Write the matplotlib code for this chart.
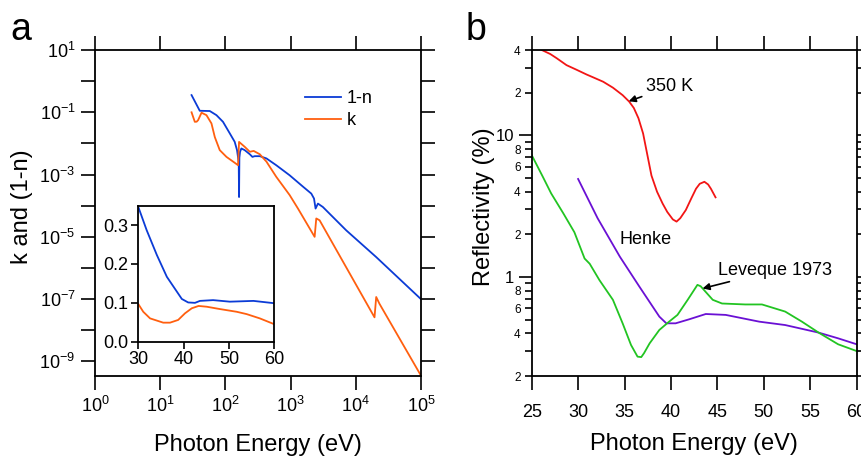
import numpy as np
import matplotlib
matplotlib.use('Agg')
import matplotlib.pyplot as plt
from matplotlib.ticker import FixedLocator, FuncFormatter, NullLocator

plt.rcParams['font.family'] = ['Liberation Sans', 'DejaVu Sans']
plt.rcParams['mathtext.fontset'] = 'custom'
plt.rcParams['mathtext.rm'] = 'Liberation Sans'
plt.rcParams['mathtext.it'] = 'Liberation Sans:italic'
plt.rcParams['mathtext.bf'] = 'Liberation Sans:bold'

# ---- panel a: optical constants vs photon energy (eV), log-log
n_energy = [30.3, 40.5, 57.7, 73, 92, 117, 139, 151, 160.3, 162.2, 164.1, 168, 176, 198, 237, 260,
            282, 337, 427, 603, 968, 1550, 2080, 2290, 2420, 2630, 3130, 7140, 20600, 1e5]
n_values = [0.357, 0.112, 0.11, 0.081, 0.0495, 0.021, 0.0113, 0.0061, 2.5e-3, 1.9e-4, 3.5e-3,
            5.4e-3, 6.9e-3, 6.1e-3, 4.5e-3, 3.7e-3, 3.9e-3, 3.9e-3, 3.3e-3, 2.0e-3, 9.5e-4,
            4.1e-4, 2.45e-4, 1.7e-4, 8.1e-5, 1.17e-4, 9.1e-5, 1.62e-5, 2.24e-6, 1.0e-7]

k_energy = [30.3, 34.0, 36.3, 38.2, 43.1, 51.3, 61.2, 68.9, 82.0, 104, 139, 156.7, 162.2, 198,
            237, 272, 337, 427, 603, 968, 1300, 2340, 2480, 2790, 19400, 20600, 23100, 1e5]
k_values = [0.1, 0.0495, 0.05, 0.056, 0.097, 0.081, 0.044, 0.016, 6.1e-3, 3.7e-3, 2.4e-3,
            2.0e-3, 1.12e-2, 7.8e-3, 5.4e-3, 5.75e-3, 4.5e-3, 2.6e-3, 8.5e-4, 2.2e-4, 8.1e-5,
            1.0e-5, 3.9e-5, 3.4e-5, 2.6e-8, 1.17e-7, 7.1e-8, 3.5e-10]

# inset: same quantities, linear scale 30-60 eV
inset_n_energy = [30, 31.85, 34.1, 36.3, 38.5, 39.6, 41.0, 42.5, 43.6, 46.5, 50.2, 55.4, 60]
inset_n_values = [0.347, 0.287, 0.223, 0.167, 0.129, 0.110, 0.101, 0.100, 0.105, 0.107,
                  0.103, 0.105, 0.099]
inset_k_energy = [30, 31.1, 32.6, 35.5, 37, 38.8, 40.3, 41.8, 43.3, 45.1, 48.0, 51.7, 53.9, 56.8, 60]
inset_k_values = [0.097, 0.077, 0.060, 0.049, 0.049, 0.056, 0.073, 0.086, 0.092, 0.090,
                  0.084, 0.077, 0.071, 0.060, 0.045]

# ---- panel b: reflectivity (%) vs photon energy (eV)
hot_energy = [26.1, 27.0, 27.7, 28.75, 29.8, 30.9, 31.6, 32.7, 33.75, 34.8, 35.5, 36.0, 36.5,
              37.0, 37.4, 37.9, 38.5, 39.1, 39.6, 40.2, 40.6, 41.0, 41.6, 42.2, 42.7, 43.1,
              43.6, 44.0, 44.3, 44.8]
hot_refl = [40, 37.5, 35, 31.3, 29.1, 26.9, 25.7, 23.9, 21.7, 19.2, 17.3, 15.6, 13.2,
            10.3, 7.6, 5.2, 4.0, 3.3, 2.88, 2.55, 2.46, 2.6, 2.97, 3.6, 4.2, 4.55,
            4.7, 4.5, 4.2, 3.65]

henke_energy = [30.0, 32.1, 34.5, 36.6, 38.75, 39.5, 40.5, 41.97, 43.75, 45.9, 49.5, 52.3,
                55.9, 58.0, 60.0]
henke_refl = [4.92, 2.6, 1.39, 0.855, 0.525, 0.471, 0.471, 0.503, 0.548, 0.54, 0.484, 0.458,
              0.405, 0.369, 0.335]

leveque_energy = [25.0, 26.2, 27.1, 28.4, 29.6, 30.7, 31.25, 32.3, 33.75, 34.8, 35.7, 36.4,
                  36.8, 37.1, 37.7, 38.75, 39.8, 40.7, 41.8, 42.85, 43.2, 44.5, 45.5, 48.0,
                  49.8, 52.3, 54.1, 55.9, 58.0, 60.0]
leveque_refl = [7.26, 5.1, 3.89, 2.82, 2.07, 1.35, 1.24, 0.95, 0.69, 0.47, 0.331, 0.274,
                0.272, 0.29, 0.34, 0.423, 0.484, 0.54, 0.69, 0.88, 0.86, 0.69, 0.65, 0.64,
                0.64, 0.57, 0.484, 0.405, 0.335, 0.30]

# ticks
a_xticks = [1e0, 1e1, 1e2, 1e3, 1e4, 1e5]
a_yticks = [1e1, 1e0, 1e-1, 1e-2, 1e-3, 1e-4, 1e-5, 1e-6, 1e-7, 1e-8, 1e-9]
inset_xticks = [30, 40, 50, 60]
inset_yticks = [0.0, 0.1, 0.2, 0.3]
b_xticks = [25, 30, 35, 40, 45, 50, 55, 60]
b_major_yticks = [1, 10]
b_minor_yticks = [0.2, 0.3, 0.4, 0.5, 0.6, 0.7, 0.8, 0.9, 2, 3, 4, 5, 6, 7, 8, 9, 20, 30, 40]
b_minor_labelled = [0.2, 0.4, 0.6, 0.8, 2, 4, 6, 8, 20, 40]

blue = '#0b3bd6'
orange = '#ff5f0f'
red = '#f21515'
purple = '#6a10d4'
green = '#22c422'

fig = plt.figure(figsize=(8.61, 4.57), dpi=100)

# ---------------- panel a
ax1 = fig.add_axes([0.1103, 0.1772, 0.3786, 0.7133])
ax1.plot(n_energy, n_values, color=blue, lw=1.3, label='1-n')
ax1.plot(k_energy, k_values, color=orange, lw=1.3, label='k')
ax1.set_xscale('log')
ax1.set_yscale('log')
ax1.set_xlim(1, 1e5)
ax1.set_ylim(10**-9.47, 10)
ax1.xaxis.set_major_locator(FixedLocator(a_xticks))
ax1.yaxis.set_major_locator(FixedLocator(a_yticks))
ax1.xaxis.set_minor_locator(NullLocator())
ax1.yaxis.set_minor_locator(NullLocator())

def dec_label(v, pos):
    return r'$\mathregular{10^{%d}}$' % round(np.log10(v))

def odd_dec_label(v, pos):
    e = round(np.log10(v))
    return r'$\mathregular{10^{%d}}$' % e if e % 2 else ''

ax1.xaxis.set_major_formatter(FuncFormatter(dec_label))
ax1.yaxis.set_major_formatter(FuncFormatter(odd_dec_label))
ax1.tick_params(which='major', direction='out', length=10, width=1.2, top=True, right=True,
                labelsize=13, pad=4)
for s in ax1.spines.values():
    s.set_linewidth(1.3)
ax1.set_xlabel('Photon Energy (eV)', fontsize=17, labelpad=13)
ax1.set_ylabel('k and (1-n)', fontsize=17)
ax1.yaxis.set_label_coords(-0.19, 0.52)
ax1.legend(frameon=False, loc='upper left', bbox_to_anchor=(0.595, 0.926), fontsize=13,
           handlelength=2.0, handletextpad=0.3, labelspacing=0.25)

# inset
ax_in = fig.add_axes([0.1606, 0.2523, 0.158, 0.2976])
ax_in.plot(inset_n_energy, inset_n_values, color=blue, lw=1.3)
ax_in.plot(inset_k_energy, inset_k_values, color=orange, lw=1.3)
ax_in.set_xlim(30, 60)
ax_in.set_ylim(0, 0.35)
ax_in.set_xticks(inset_xticks)
ax_in.set_yticks(inset_yticks)
ax_in.set_yticklabels(['%.1f' % v for v in inset_yticks])
ax_in.tick_params(direction='out', length=5, width=1.2, labelsize=13, pad=2)
for s in ax_in.spines.values():
    s.set_linewidth(1.3)

# ---------------- panel b
ax2 = fig.add_axes([0.6175, 0.1772, 0.3775, 0.7133])
ax2.plot(hot_energy, hot_refl, color=red, lw=1.3)
ax2.plot(henke_energy, henke_refl, color=purple, lw=1.3)
ax2.plot(leveque_energy, leveque_refl, color=green, lw=1.3)
ax2.set_yscale('log')
ax2.set_xlim(25, 60)
ax2.set_ylim(0.2, 40)
ax2.xaxis.set_major_locator(FixedLocator(b_xticks))
ax2.yaxis.set_major_locator(FixedLocator(b_major_yticks))
ax2.yaxis.set_minor_locator(FixedLocator(b_minor_yticks))
ax2.yaxis.set_major_formatter(FuncFormatter(lambda v, p: '%g' % v))

def minor_label(v, pos):
    for t in b_minor_labelled:
        if abs(v - t) < 1e-6 * t:
            return ('%g' % t).replace('0.', '')[0]
    return ''

ax2.yaxis.set_minor_formatter(FuncFormatter(minor_label))
ax2.tick_params(axis='x', which='major', direction='out', length=10, width=1.2, top=True,
                labelsize=13, pad=10)
ax2.tick_params(axis='y', which='major', direction='out', length=9.5, width=1.2, right=True,
                labelsize=12, pad=3)
ax2.tick_params(axis='y', which='minor', direction='out', length=5, width=1.2, right=True,
                labelsize=8.5, pad=3)
for s in ax2.spines.values():
    s.set_linewidth(1.3)
ax2.set_xlabel('Photon Energy (eV)', fontsize=17, labelpad=9)
ax2.set_ylabel('Reflectivity (%)', fontsize=17)
ax2.yaxis.set_label_coords(-0.113, 0.518)

arrow = dict(arrowstyle='-|>', color='black', lw=1.2, shrinkA=1, shrinkB=0, mutation_scale=10)
ax2.annotate('350 K', xy=(35.45, 17.4), xytext=(37.3, 22.0), fontsize=13,
             ha='left', va='center', arrowprops=arrow)
ax2.annotate('Leveque 1973', xy=(43.4, 0.83), xytext=(45.1, 1.12), fontsize=13,
             ha='left', va='center', arrowprops=arrow)
ax2.text(34.5, 1.85, 'Henke', fontsize=13, ha='left', va='center')

fig.text(0.012, 0.912, 'a', fontsize=27, ha='left', va='baseline')
fig.text(0.541, 0.912, 'b', fontsize=27, ha='left', va='baseline')

fig.savefig('out.png', dpi=100)
